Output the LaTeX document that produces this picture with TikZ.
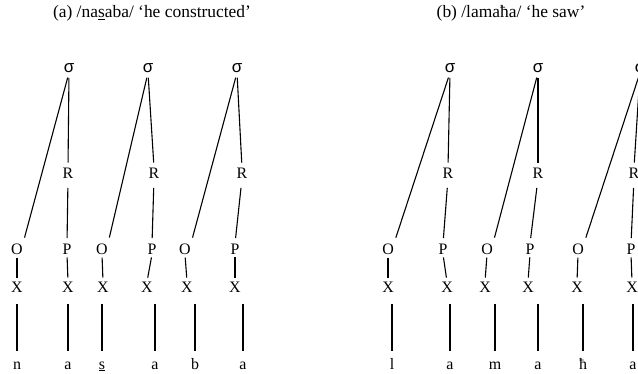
\documentclass[tikz,border=0pt]{standalone}
\usepackage{fontspec}
\setmainfont{Liberation Serif}
\newfontfamily\sigfont{Liberation Sans}
\begin{document}
\begin{tikzpicture}[x=1bp,y=-1bp,
  lab/.style={inner sep=0pt,font=\fontsize{16}{16}\selectfont},
  seg/.style={lab,anchor=base,text height=11bp,text depth=0pt},
  syl/.style={inner sep=0pt,font=\sigfont\fontsize{17}{17}\selectfont},
  ttl/.style={inner sep=0pt,font=\fontsize{17.5}{18}\selectfont},
  ln/.style={line width=1.1bp},
  topln/.style={ln,shorten <=5bp,shorten >=6bp},
  srln/.style={ln,shorten <=5bp,shorten >=5bp},
  rpln/.style={ln,shorten <=9.5bp,shorten >=5.5bp},
  oxln/.style={ln,shorten <=3bp,shorten >=4bp},
  segln/.style={ln,shorten <=12bp,shorten >=7bp}]
\useasboundingbox (0,0) rectangle (638,373);
\clip (0,0) rectangle (638,373);
% titles
\node[ttl] (ta) at (152,13) {(a) /na\underline{s}aba/ ‘he constructed’};
\node[ttl] (tb) at (511,13) {(b) /lamaħa/ ‘he saw’};
% sigma, R, O, P, X rows
\foreach \n/\x in {s1/69,s2/148,s3/237,s4/450,s5/538,s6/640}
  \node[syl] (\n) at (\x,68) {σ};
\foreach \n/\x in {r1/68,r2/154,r3/242,r4/448,r5/538,r6/634}
  \node[lab] (\n) at (\x,173) {R};
\foreach \n/\x in {o1/17,o2/102,o3/185,o4/388,o5/487,o6/578}
  \node[lab] (\n) at (\x,249) {O};
\foreach \n/\x in {p1/67,p2/152,p3/235,p4/443,p5/530,p6/631}
  \node[lab] (\n) at (\x,249) {P};
\foreach \n/\x in {xa/17,xb/68,xc/103,xd/147,xe/187,xf/235,xg/388,xh/447,xi/485,xj/528,xk/577,xl/632}
  \node[lab] (\n) at (\x,287) {X};
% segments
\node[seg] (ga) at (17,369) {n};
\node[seg] (gb) at (68,369) {a};
\node[seg] (gc) at (102,369) {\underline{s}};
\node[seg] (gd) at (155,369) {a};
\node[seg] (ge) at (195,369) {b};
\node[seg] (gf) at (243,369) {a};
\node[seg] (gg) at (392,369) {l};
\node[seg] (gh) at (450,369) {a};
\node[seg] (gi) at (495,369) {m};
\node[seg] (gj) at (538,369) {a};
\node[seg] (gk) at (583,369) {ħ};
\node[seg] (gl) at (633,369) {a};
% sigma to O (diagonal) and sigma to R
\foreach \s/\o/\r in {s1/o1/r1,s2/o2/r2,s3/o3/r3,s4/o4/r4,s5/o5/r5,s6/o6/r6}{
  \draw[topln] (\s.south) -- (\o.north east);
  \draw[srln] (\s.south) -- (\r.north);
}
% R to P
\foreach \r/\p in {r1/p1,r2/p2,r3/p3,r4/p4,r5/p5,r6/p6}
  \draw[rpln] (\r.south) -- (\p.north);
% O/P to X
\foreach \a/\b in {o1/xa,p1/xb,o2/xc,p2/xd,o3/xe,p3/xf,o4/xg,p4/xh,o5/xi,p5/xj,o6/xk,p6/xl}
  \draw[oxln] (\a.south) -- (\b.north);
% X to segment (vertical, above each segment)
\foreach \a/\b in {xa/ga,xb/gb,xc/gc,xd/gd,xe/ge,xf/gf,xg/gg,xh/gh,xi/gi,xj/gj,xk/gk,xl/gl}
  \draw[segln] (\b.north |- \a.south) -- (\b.north);
\end{tikzpicture}
\end{document}
